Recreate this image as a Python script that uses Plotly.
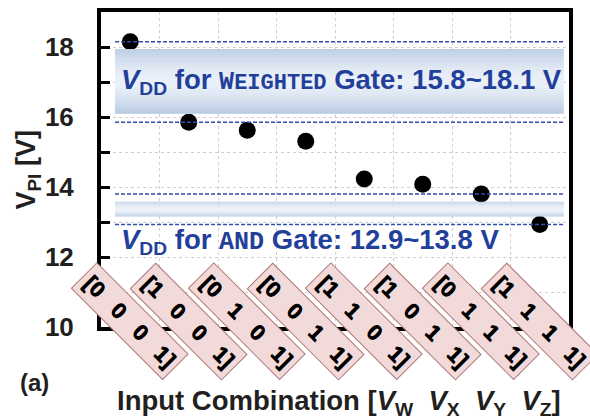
import plotly.graph_objects as go

# Input combinations [V_W V_X V_Y V_Z] and measured pull-in voltages
combos = ["[0 0 0 1]", "[1 0 0 1]", "[0 1 0 1]", "[0 0 1 1]",
          "[1 1 0 1]", "[1 0 1 1]", "[0 1 1 1]", "[1 1 1 1]"]
v_pi = [18.15, 15.85, 15.62, 15.31, 14.23, 14.08, 13.80, 12.93]

# V_DD windows (dashed limits)
weighted_range = [15.85, 18.15]
and_range = [12.93, 13.80]
weighted_label = "15.8~18.1 V"
and_label = "12.9~13.8 V"

# shaded bands behind the window labels
weighted_band = [16.09, 17.94]
and_band = [13.16, 13.58]

y_ticks = [10, 12, 14, 16, 18]

FONT = "Liberation Sans, Arial, sans-serif"
DARK = "#231f20"
BLUE_TXT = "#22409a"
DASH_CLR = "#2f4fa6"

x_idx = list(range(len(combos)))
band_x0, band_x1 = -0.26, 7.41

fig = go.Figure()
fig.add_trace(go.Scatter(
    x=x_idx, y=v_pi, mode="markers",
    marker=dict(color="black", size=17, line=dict(width=0)),
    showlegend=False, hoverinfo="skip"))

shapes = []


def gradient_band(y0, y1, n=40):
    top = (0xbd, 0xcd, 0xe4)
    mid = (0xea, 0xf0, 0xf8)
    bot = (0xb5, 0xc8, 0xe2)
    h = (y1 - y0) / n
    for k in range(n):
        t = (k + 0.5) / n  # 0 at bottom, 1 at top
        if t < 0.5:
            s = 1 - ((0.5 - t) / 0.5) ** 1.6
            c = [bot[j] + (mid[j] - bot[j]) * s for j in range(3)]
        else:
            s = 1 - ((t - 0.5) / 0.5) ** 1.6
            c = [top[j] + (mid[j] - top[j]) * s for j in range(3)]
        col = "rgb(%d,%d,%d)" % tuple(int(round(v)) for v in c)
        top_edge = min(y0 + (k + 1) * h + h * 0.3, y1)
        shapes.append(dict(type="rect", xref="x", yref="y", layer="above",
                           x0=band_x0, x1=band_x1,
                           y0=y0 + k * h, y1=top_edge,
                           fillcolor=col, line=dict(width=0)))


gradient_band(*weighted_band)
gradient_band(*and_band)

for yv in weighted_range + and_range:
    shapes.append(dict(type="line", xref="x", yref="y", layer="above",
                       x0=band_x0, x1=band_x1, y0=yv, y1=yv,
                       line=dict(color=DASH_CLR, width=1.5, dash="4px,2px")))

small_caps = "Liberation Mono, Courier New, monospace"
vdd = "<i>V</i><sub>DD</sub>"
weighted_txt = (
    f"<b>{vdd} for "
    f"<span style='font-family:{small_caps};font-size:25px'>W</span>"
    f"<span style='font-family:{small_caps};font-size:22px'>EIGHTED</span>"
    f" Gate: {weighted_label}</b>")
and_txt = (
    f"<b>{vdd} for "
    f"<span style='font-family:{small_caps};font-size:25px'>AND</span>"
    f" Gate: {and_label}</b>")

annotations = [
    dict(x=-0.19, y=sum(weighted_band) / 2, xref="x", yref="y",
         text=weighted_txt, showarrow=False, xanchor="left", yanchor="middle",
         font=dict(family=FONT, size=27.5, color=BLUE_TXT)),
    dict(x=-0.19, y=12.43, xref="x", yref="y",
         text=and_txt, showarrow=False, xanchor="left", yanchor="middle",
         font=dict(family=FONT, size=27.5, color=BLUE_TXT)),
]

# rotated combination labels in pink boxes
nb = "\u00a0"
for i, c in enumerate(combos):
    lab = c.replace(" ", nb * 3)
    annotations.append(dict(
        x=i, y=10.17, xref="x", yref="y", text="<b>" + lab + "</b>",
        showarrow=False, textangle=45, xanchor="center", yanchor="middle",
        width=124, height=31, borderpad=2, borderwidth=1,
        bgcolor="#f2dada", bordercolor="#ad7676",
        font=dict(family=FONT, size=22, color="black", weight="bold",
                  shadow="0.7px 0.7px 0px black")))

# axis titles and panel tag
annotations += [
    dict(x=-0.156, y=0.5, xref="paper", yref="paper",
         text="<b>V<sub>PI</sub> [V]</b>", textangle=-90, showarrow=False,
         xanchor="center", yanchor="middle",
         font=dict(family=FONT, size=27, color=DARK)),
    dict(x=0.509, y=-0.24, xref="paper", yref="paper",
         text=("<b>Input Combination [<i>V</i><sub>W</sub>" + nb * 2 +
               "<i>V</i><sub>X</sub>" + nb * 2 + "<i>V</i><sub>Y</sub>" + nb * 2 +
               "<i>V</i><sub>Z</sub>]</b>"),
         showarrow=False, xanchor="center", yanchor="middle",
         font=dict(family=FONT, size=27.5, color=DARK)),
    dict(x=-0.143, y=-0.176, xref="paper", yref="paper",
         text="<b>(a)</b>", showarrow=False, xanchor="center", yanchor="middle",
         font=dict(family=FONT, size=24, color=DARK)),
]

fig.update_layout(
    width=590, height=419,
    margin=dict(l=101, r=21, t=8, b=92),
    paper_bgcolor="white", plot_bgcolor="white",
    shapes=shapes, annotations=annotations,
    xaxis=dict(range=[-0.5, 7.5], tickvals=[k - 0.5 for k in range(9)],
               showticklabels=False, ticks="",
               showgrid=True, gridcolor="#cfcfcf", gridwidth=1, griddash="dot",
               showline=True, linecolor="black", linewidth=4, mirror=True,
               zeroline=False, fixedrange=True),
    yaxis=dict(range=[10, 19], tickvals=y_ticks,
               ticks="inside", ticklen=9, tickwidth=3, tickcolor="black",
               ticklabelstandoff=18,
               tickfont=dict(family=FONT, size=26, color=DARK, weight="bold"),
               showgrid=True, gridcolor="#cfcfcf", gridwidth=1, griddash="dot",
               minor=dict(dtick=1, tick0=10, ticks="inside", ticklen=9,
                          tickwidth=3, tickcolor="black", showgrid=True,
                          gridcolor="#cfcfcf", gridwidth=1, griddash="dot"),
               showline=True, linecolor="black", linewidth=4, mirror=True,
               zeroline=False, fixedrange=True),
)

fig.write_html("out.html")
